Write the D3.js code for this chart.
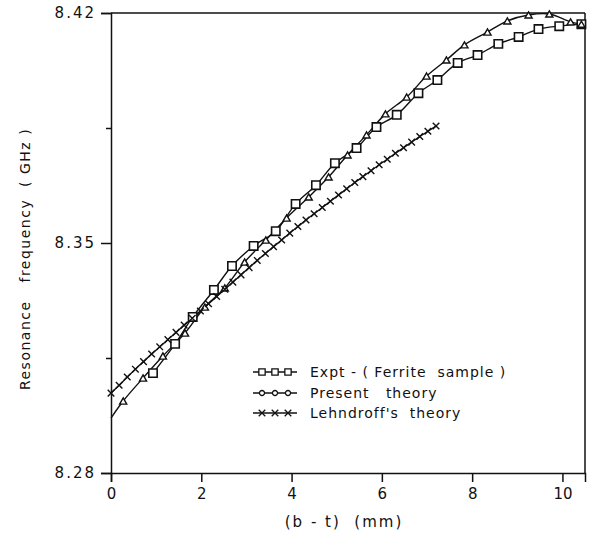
<!DOCTYPE html>
<html>
<head>
<meta charset="utf-8">
<script src="https://cdn.jsdelivr.net/npm/d3@7"></script>
<style>
  body { margin: 0; background: #fff; }
  text { font-family: "DejaVu Sans", sans-serif; fill: #111; white-space: pre; }
</style>
</head>
<body>
<div id="chart"></div>
<script>
// experimental points (squares)
var exptX = [0.93, 1.42, 1.81, 2.28, 2.68, 3.16, 3.65, 4.09, 4.54, 4.96, 5.44, 5.88,
             6.33, 6.81, 7.23, 7.68, 8.12, 8.58, 9.03, 9.47, 9.93, 10.42];
var exptY = [8.3104, 8.3193, 8.3275, 8.3357, 8.3430, 8.3491, 8.3536, 8.3619, 8.3676, 8.3743, 8.3789, 8.3853,
             8.3890, 8.3956, 8.3996, 8.4048, 8.4072, 8.4106, 8.4127, 8.4151, 8.4160, 8.4166];

// present theory (first point is the curve start, no marker)
var presX = [0, 0.27, 0.71, 1.15, 1.64, 2.08, 2.52, 2.96, 3.43, 3.89, 4.38, 4.82, 5.24,
             5.66, 6.08, 6.55, 6.99, 7.43, 7.83, 8.34, 8.78, 9.25, 9.71, 10.18, 10.42];
var presY = [8.2967, 8.3019, 8.3089, 8.3156, 8.3226, 8.3305, 8.3363, 8.3442, 8.3509, 8.3576, 8.3640, 8.3701, 8.3768,
             8.3829, 8.3893, 8.3944, 8.4008, 8.4057, 8.4103, 8.4142, 8.4176, 8.4194, 8.4197, 8.4173, 8.4166];

// Lehndroff's theory
var lehnX = [0, 0.18, 0.36, 0.54, 0.72, 0.90, 1.08, 1.26, 1.44, 1.62, 1.80, 1.98, 2.16, 2.34,
             2.52, 2.70, 2.88, 3.06, 3.24, 3.42, 3.60, 3.78, 3.96, 4.14, 4.32, 4.50, 4.68,
             4.86, 5.04, 5.22, 5.40, 5.58, 5.76, 5.94, 6.12, 6.30, 6.48, 6.66, 6.84, 7.02, 7.20];
var lehnY = [8.3043, 8.3067, 8.3092, 8.3116, 8.3139, 8.3162, 8.3184, 8.3206, 8.3228, 8.3250, 8.3271, 8.3293, 8.3315, 8.3337,
             8.3359, 8.3381, 8.3403, 8.3425, 8.3447, 8.3468, 8.3489, 8.3509, 8.3530, 8.3550, 8.3570, 8.3589, 8.3608,
             8.3627, 8.3646, 8.3665, 8.3684, 8.3702, 8.3720, 8.3738, 8.3755, 8.3773, 8.3790, 8.3807, 8.3824, 8.3840, 8.3856];

var xTicks = [0, 2, 4, 6, 8, 10];
var yTicks = [8.28, 8.35, 8.42];
var yMinor = [8.315, 8.385];
var legendLabels = ["Expt - ( Ferrite  sample )", "Present   theory", "Lehndroff's  theory"];

var W = 590, H = 541;
var svg = d3.select("#chart").append("svg").attr("width", W).attr("height", H);

var x = d3.scaleLinear().domain([0, 10.5]).range([111, 585]);
var y = d3.scaleLinear().domain([8.28, 8.42]).range([473, 13]);

// frame
svg.append("line").attr("x1", 111).attr("x2", 585).attr("y1", 13).attr("y2", 13)
  .attr("stroke", "#111").attr("stroke-width", 1.5);
svg.append("line").attr("x1", 585).attr("x2", 585).attr("y1", 13).attr("y2", 473)
  .attr("stroke", "#111").attr("stroke-width", 1.5);

var xAxis = svg.append("g").attr("transform", "translate(0,473)")
  .call(d3.axisBottom(x).tickValues(xTicks).tickSize(9).tickPadding(6).tickFormat(d3.format("d")));
var yAxis = svg.append("g").attr("transform", "translate(111,0)")
  .call(d3.axisLeft(y).tickValues(yTicks).tickSize(10).tickPadding(5).tickFormat(d3.format(".2f")));
svg.append("g").attr("transform", "translate(111,0)")
  .call(d3.axisLeft(y).tickValues(yMinor).tickSize(5).tickFormat(""))
  .select(".domain").remove();

svg.selectAll(".domain").attr("stroke", "#111").attr("stroke-width", 1.5);
svg.selectAll(".tick line").attr("stroke", "#111").attr("stroke-width", 1.5);
xAxis.selectAll("text").attr("font-size", 15).attr("fill", "#111");
yAxis.selectAll("text").attr("font-size", 15).attr("fill", "#111").attr("letter-spacing", 2);

svg.append("text").attr("x", 344).attr("y", 527).attr("text-anchor", "middle")
  .attr("font-size", 15).attr("letter-spacing", 2).text("(b - t)  (mm)");
svg.append("text").attr("transform", "translate(30,259) rotate(-90)").attr("text-anchor", "middle")
  .attr("font-size", 14).attr("letter-spacing", 1.5).text("Resonance   frequency  ( GHz )");

function pts(xs, ys) {
  return xs.map(function(d, i) { return [d, ys[i]]; });
}
var expt = pts(exptX, exptY);
var pres = pts(presX, presY);
var lehn = pts(lehnX, lehnY);

var line = d3.line()
  .x(function(d) { return x(d[0]); })
  .y(function(d) { return y(d[1]); })
  .curve(d3.curveCatmullRom.alpha(0.5));

[expt, pres, lehn].forEach(function(s) {
  svg.append("path").attr("d", line(s)).attr("fill", "none")
    .attr("stroke", "#111").attr("stroke-width", 1.4);
});

var sq = d3.symbol().type(d3.symbolSquare).size(70);
var tri = d3.symbol().type(d3.symbolTriangle2).size(36);
var cross = d3.symbol().type(d3.symbolTimes).size(30);

svg.selectAll(".sq").data(expt).enter().append("path")
  .attr("d", sq)
  .attr("transform", function(d) { return "translate(" + x(d[0]) + "," + y(d[1]) + ")"; })
  .attr("fill", "#fff").attr("stroke", "#111").attr("stroke-width", 1.6);

svg.selectAll(".tri").data(pres.slice(1)).enter().append("path")
  .attr("d", tri)
  .attr("transform", function(d) { return "translate(" + x(d[0]) + "," + (y(d[1]) + 1) + ")"; })
  .attr("fill", "#fff").attr("stroke", "#111").attr("stroke-width", 1.4);

svg.selectAll(".cr").data(lehn).enter().append("path")
  .attr("d", cross)
  .attr("transform", function(d) { return "translate(" + x(d[0]) + "," + y(d[1]) + ")"; })
  .attr("fill", "none").attr("stroke", "#111").attr("stroke-width", 1.4);

// legend
var lg = svg.append("g");
var rowsY = [372, 393, 413];
var symbols = [d3.symbol().type(d3.symbolSquare).size(40), d3.symbol().type(d3.symbolCircle).size(20), d3.symbol().type(d3.symbolTimes).size(30)];
legendLabels.forEach(function(t, i) {
  var g = lg.append("g").attr("transform", "translate(0," + rowsY[i] + ")");
  g.append("line").attr("x1", 253).attr("x2", 297).attr("stroke", "#111").attr("stroke-width", 1.4);
  [262, 275, 288].forEach(function(cx) {
    g.append("path").attr("d", symbols[i]).attr("transform", "translate(" + cx + ",0)")
      .attr("fill", i === 2 ? "none" : "#fff").attr("stroke", "#111").attr("stroke-width", 1.3);
  });
  g.append("text").attr("x", 310).attr("y", 5).attr("font-size", 14).attr("letter-spacing", 1).text(t);
});
</script>
</body>
</html>
